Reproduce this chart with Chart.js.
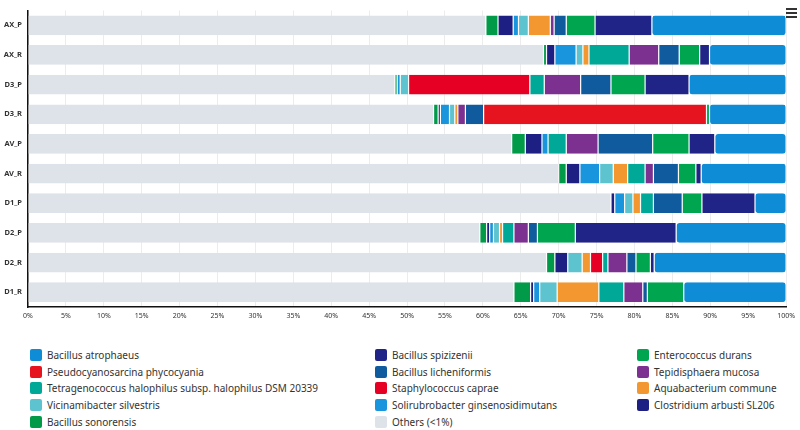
<!DOCTYPE html>
<html>
<head>
<meta charset="utf-8">
<script src="https://cdn.jsdelivr.net/npm/chart.js@4.4.1/dist/chart.umd.min.js"></script>
<style>
  html, body { margin: 0; padding: 0; background: #fff; }
  #wrap { position: relative; width: 800px; height: 430px; overflow: hidden; font-family: "Noto Sans", "Open Sans", sans-serif; }
  #chartBox { position: absolute; left: 0; top: 0; width: 800px; height: 330px; }
  #legend { position: absolute; left: 0; top: 347px; width: 800px; height: 83px; }
  .li { position: absolute; height: 16px; line-height: 16px; font-size: 10px; color: #333; white-space: nowrap; }
  .sw { position: absolute; left: 0; top: 2px; width: 12px; height: 12px; border-radius: 2px; }
  .lt { position: absolute; left: 17px; top: 0; }
  #menu { position: absolute; left: 786px; top: 8px; width: 11px; height: 10px; }
  #menu span { position: absolute; left: 0; width: 11px; height: 2px; background: #333; }
</style>
</head>
<body>
<div id="wrap">
  <div id="chartBox"><canvas id="c" width="800" height="330"></canvas></div>
  <div id="legend"></div>
  <div id="menu"><span style="top:0"></span><span style="top:4px"></span><span style="top:8px"></span></div>
</div>
<script>
// ---- data ----
const categories = ['AX_P','AX_R','D3_P','D3_R','AV_P','AV_R','D1_P','D2_P','D2_R','D1_R'];

const bacillusAtrophaeus        = [17.7, 10.1, 12.8, 10.1, 9.4, 11.2, 4.1, 14.5, 17.4, 13.5];
const bacillusSpizizenii        = [7.5, 1.3, 5.8, 0, 3.4, 0.7, 7.0, 13.3, 0.5, 0];
const enterococcusDurans        = [3.8, 2.7, 4.5, 0.4, 4.8, 2.3, 2.6, 5.0, 1.9, 4.8];
const pseudocyanosarcina        = [0, 0, 0, 29.4, 0, 0, 0, 0, 0, 0];
const bacillusLicheniformis     = [1.6, 2.7, 4.0, 2.4, 7.2, 3.3, 3.8, 1.2, 1.2, 0.6];
const tepidisphaeraMucosa       = [0.5, 3.9, 4.8, 1.0, 4.2, 1.1, 0, 1.9, 2.5, 2.5];
const tetragenococcus           = [0, 5.3, 1.9, 0, 2.4, 2.3, 1.7, 1.5, 0.7, 3.3];
const staphylococcusCaprae      = [0, 0, 16.0, 0, 0, 0, 0, 0, 1.6, 0];
const aquabacteriumCommune      = [2.9, 0.8, 0, 0.4, 0, 1.9, 1.0, 0.4, 1.1, 5.5];
const vicinamibacterSilvestris  = [1.3, 0.9, 1.1, 0.7, 0, 1.8, 1.1, 0.8, 1.9, 2.3];
const solirubrobacter           = [0.7, 2.8, 0.4, 1.2, 0.8, 2.6, 1.3, 0.5, 0, 0.8];
const clostridiumArbusti        = [2.0, 1.1, 0, 0.3, 2.2, 1.8, 0.5, 0.4, 1.7, 0.4];
const bacillusSonorensis        = [1.6, 0.4, 0.3, 0.6, 1.8, 1.0, 0, 0.9, 1.1, 2.2];
const others                    = [60.4, 68.0, 48.4, 53.5, 63.8, 70.0, 76.9, 59.6, 68.4, 64.1];

const xTickValues = [0,5,10,15,20,25,30,35,40,45,50,55,60,65,70,75,80,85,90,95,100];

// series in legend order (row-major), with colours
const series = [
  { name: 'Bacillus atrophaeus', data: bacillusAtrophaeus, color: '#0f8cd6' },
  { name: 'Bacillus spizizenii', data: bacillusSpizizenii, color: '#202486' },
  { name: 'Enterococcus durans', data: enterococcusDurans, color: '#00a54f' },
  { name: 'Pseudocyanosarcina phycocyania', data: pseudocyanosarcina, color: '#e5141e' },
  { name: 'Bacillus licheniformis', data: bacillusLicheniformis, color: '#105b9e' },
  { name: 'Tepidisphaera mucosa', data: tepidisphaeraMucosa, color: '#7c3190' },
  { name: 'Tetragenococcus halophilus subsp. halophilus DSM 20339', data: tetragenococcus, color: '#00a898' },
  { name: 'Staphylococcus caprae', data: staphylococcusCaprae, color: '#e60023' },
  { name: 'Aquabacterium commune', data: aquabacteriumCommune, color: '#f39830' },
  { name: 'Vicinamibacter silvestris', data: vicinamibacterSilvestris, color: '#5cc3cf' },
  { name: 'Solirubrobacter ginsenosidimutans', data: solirubrobacter, color: '#1895dc' },
  { name: 'Clostridium arbusti SL206', data: clostridiumArbusti, color: '#1d1f82' },
  { name: 'Bacillus sonorensis', data: bacillusSonorensis, color: '#009a48' },
  { name: 'Others (<1%)', data: others, color: '#dde3e8' }
];

// stacking: last legend item sits at the left (start) of the stack
const datasets = series.slice().reverse().map(s => ({
  label: s.name,
  data: s.data,
  backgroundColor: s.color,
  borderColor: '#ffffff',
  borderWidth: { left: 0.6, right: 0.6, top: 0, bottom: 0 },
  borderRadius: 3,
  borderSkipped: false,
  barPercentage: 0.95,
  categoryPercentage: 0.7
}));

new Chart(document.getElementById('c'), {
  type: 'bar',
  data: { labels: categories, datasets },
  options: {
    indexAxis: 'y',
    responsive: false,
    animation: false,
    layout: { padding: { top: 4, right: 10, bottom: 3, left: 0 } },
    plugins: { legend: { display: false }, tooltip: { enabled: true } },
    scales: {
      x: {
        stacked: true,
        min: 0, max: 100,
        afterBuildTicks: (scale) => { scale.ticks = xTickValues.map(v => ({ value: v })); },
        afterFit: (scale) => { scale.height = 20; },
        ticks: { callback: v => v + '%', font: { family: 'Noto Sans', size: 7 }, color: '#333', padding: 5, maxRotation: 0, autoSkip: false },
        grid: { color: '#ececec', drawTicks: false, lineWidth: 1 },
        border: { display: true, color: '#111', width: 1.5 }
      },
      y: {
        stacked: true,
        afterFit: (scale) => { scale.width = 28; },
        ticks: { font: { family: 'Noto Sans', size: 7.5, weight: 'bold' }, color: '#333', padding: 6 },
        grid: { display: false, drawTicks: false },
        border: { display: true, color: '#111', width: 1.5 }
      }
    }
  }
});

// HTML legend in 3 columns, row-major order
const legend = document.getElementById('legend');
const colX = [30, 375, 637];
series.forEach((s, i) => {
  const row = Math.floor(i / 3), col = i % 3;
  const d = document.createElement('div');
  d.className = 'li';
  d.style.left = colX[col] + 'px';
  d.style.top = (row * 16.7) + 'px';
  d.innerHTML = '<span class="sw" style="background:' + s.color + '"></span><span class="lt"></span>';
  d.querySelector('.lt').textContent = s.name;
  legend.appendChild(d);
});
</script>
</body>
</html>
